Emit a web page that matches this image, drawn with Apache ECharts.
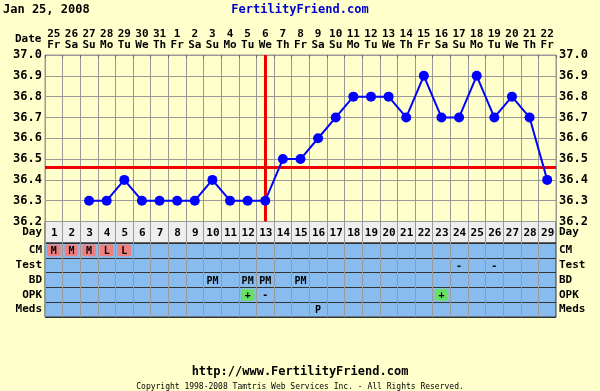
<!DOCTYPE html>
<html><head><meta charset="utf-8">
<script src="https://cdn.jsdelivr.net/npm/echarts@6/dist/echarts.min.js"></script>
<style>html,body{margin:0;padding:0;background:#FFFFCC}#c{width:600px;height:391px}</style>
</head><body><div id="c"></div>
<script>
const cycleDays = ['1','2','3','4','5','6','7','8','9','10','11','12','13','14','15','16','17','18','19','20','21','22','23','24','25','26','27','28','29'];
const dateLabels = ['25','26','27','28','29','30','31','1','2','3','4','5','6','7','8','9','10','11','12','13','14','15','16','17','18','19','20','21','22'];
const weekdayLabels = ['Fr','Sa','Su','Mo','Tu','We','Th','Fr','Sa','Su','Mo','Tu','We','Th','Fr','Sa','Su','Mo','Tu','We','Th','Fr','Sa','Su','Mo','Tu','We','Th','Fr'];
const temps = [null,null,36.3,36.3,36.4,36.3,36.3,36.3,36.3,36.4,36.3,36.3,36.3,36.5,36.5,36.6,36.7,36.8,36.8,36.8,36.7,36.9,36.7,36.7,36.9,36.7,36.8,36.7,36.4];
const coverline = 36.46;
const ovulationDay = '13';
const yTicks = ['36.2','36.3','36.4','36.5','36.6','36.7','36.8','36.9','37.0'];
const tableRows = ['CM','Test','BD','OPK','Meds'];
const cmDays = ['1','2','3','4','5'];
const cmValues = ['M','M','M','L','L'];
const testDays = ['24','26'];
const testValues = ['-','-'];
const bdDays = ['10','12','13','15'];
const bdValues = ['PM','PM','PM','PM'];
const opkDays = ['12','13','23'];
const opkValues = ['+','-','+'];
const medsDays = ['16'];
const medsValues = ['P'];

const FONT = 'DejaVu Sans Mono';
const cells = [];
function addRow(row, daysArr, vals, fillFn){
  daysArr.forEach((d,i)=>cells.push({x:cycleDays.indexOf(d), y:tableRows.indexOf(row), text:vals[i], fill:fillFn(vals[i])}));
}
addRow('CM', cmDays, cmValues, v=>'#EE8080');
addRow('Test', testDays, testValues, v=>null);
addRow('BD', bdDays, bdValues, v=>null);
addRow('OPK', opkDays, opkValues, v=>v==='+'?'#66E066':null);
addRow('Meds', medsDays, medsValues, v=>null);

const chart = echarts.init(document.getElementById('c'), null, {renderer:'canvas'});
const L = 45, R = 44;
const catAxisBase = {type:'category', data:cycleDays, boundaryGap:true,
  axisLine:{show:false}, axisTick:{show:false}, axisLabel:{show:false},
  splitLine:{show:true, interval:0, lineStyle:{color:'#999999', width:1}}};
const ts = (size, color, weight)=>({fontFamily:FONT, fontWeight:weight||'bold', fontSize:size, color:color||'#000'});

const option = {
  backgroundColor:'#FFFFCC',
  animation:false,
  title:[
    {text:'Jan 25, 2008', left:3, top:4, padding:0, textStyle:ts(12)},
    {text:'FertilityFriend.com', left:'center', top:4, padding:0, textStyle:ts(12,'#0000CC')},
    {text:'Date', left:15, top:34, padding:0, textStyle:ts(11)},
    {text:'http://www.FertilityFriend.com', left:'center', top:366, padding:0, textStyle:ts(12)},
    {text:'Copyright 1998-2008 Tamtris Web Services Inc. - All Rights Reserved.', left:'center', top:383, padding:0, textStyle:ts(8,'#000','normal')}
  ],
  grid:[
    {left:L, right:R, top:55, height:166.5, show:true, backgroundColor:'#FFFFCC', borderColor:'#999999', borderWidth:1},
    {left:L, right:R, top:221.5, height:21.5, show:true, backgroundColor:'#EEEEEE', borderColor:'#333333', borderWidth:1},
    {left:L, right:R, top:243, height:74, show:true, backgroundColor:'#88BBEE', borderColor:'#333333', borderWidth:1}
  ],
  xAxis:[
    {type:'category', data:cycleDays, gridIndex:0, position:'top', boundaryGap:true,
      axisLine:{show:true, lineStyle:{color:'#999999'}},
      axisTick:{show:true, interval:0, length:-3, lineStyle:{color:'#666666'}},
      axisLabel:{interval:0, margin:4, fontFamily:FONT, fontWeight:'bold', fontSize:11, color:'#000', lineHeight:11,
        formatter:(v,i)=>dateLabels[i]+'\n'+weekdayLabels[i]},
      splitLine:{show:true, interval:0, lineStyle:{color:'#999999'}}},
    Object.assign({gridIndex:1}, catAxisBase),
    Object.assign({gridIndex:2}, catAxisBase)
  ],
  yAxis:[
    {type:'value', gridIndex:0, min:36.2, max:37.0, interval:0.1, position:'left',
      axisLine:{show:false}, axisTick:{show:false},
      axisLabel:{margin:3, fontFamily:FONT, fontWeight:'bold', fontSize:12, color:'#000', formatter:v=>yTicks[Math.round((v-36.2)*10)]},
      splitLine:{show:true, lineStyle:{color:'#999999'}}},
    {type:'value', gridIndex:0, min:36.2, max:37.0, interval:0.1, position:'right',
      axisLine:{show:false}, axisTick:{show:false},
      axisLabel:{margin:3, fontFamily:FONT, fontWeight:'bold', fontSize:12, color:'#000', formatter:v=>yTicks[Math.round((v-36.2)*10)]},
      splitLine:{show:false}},
    {type:'category', gridIndex:1, data:['Day'], position:'left', axisLine:{show:false}, axisTick:{show:false},
      axisLabel:{margin:3, fontFamily:FONT, fontWeight:'bold', fontSize:11, color:'#000'}},
    {type:'category', gridIndex:1, data:['Day'], position:'right', axisLine:{show:false}, axisTick:{show:false},
      axisLabel:{margin:3, fontFamily:FONT, fontWeight:'bold', fontSize:11, color:'#000'}},
    {type:'category', gridIndex:2, data:tableRows, inverse:true, position:'left', axisLine:{show:false}, axisTick:{show:false},
      axisLabel:{margin:3, fontFamily:FONT, fontWeight:'bold', fontSize:11, color:'#000'},
      splitLine:{show:true, interval:0, lineStyle:{color:'#333333'}}},
    {type:'category', gridIndex:2, data:tableRows, inverse:true, position:'right', axisLine:{show:false}, axisTick:{show:false},
      axisLabel:{margin:3, fontFamily:FONT, fontWeight:'bold', fontSize:11, color:'#000'}}
  ],
  series:[
    {type:'line', xAxisIndex:0, yAxisIndex:0, data:temps, connectNulls:false,
      symbol:'circle', symbolSize:10, itemStyle:{color:'#0000FF'}, lineStyle:{color:'#0000FF', width:2},
      z:5,
      markLine:{silent:true, symbol:'none', label:{show:false}, z:4,
        data:[
          {yAxis:coverline, lineStyle:{color:'#EE0000', width:3, type:'solid'}},
          {xAxis:ovulationDay, lineStyle:{color:'#EE0000', width:3, type:'solid'}}
        ]}},
    {type:'custom', xAxisIndex:1, yAxisIndex:2, data:cycleDays.map((d,i)=>[i,0]),
      renderItem:(params, api)=>{
        const c = api.coord([api.value(0), api.value(1)]);
        return {type:'text', style:{text:cycleDays[params.dataIndex], x:c[0]+0.5, y:c[1]+1, align:'center', verticalAlign:'middle',
          font:'bold 11px "'+FONT+'"', fill:'#000'}};
      }},
    {type:'custom', xAxisIndex:2, yAxisIndex:4, data:cells.map(c=>[c.x, c.y]),
      renderItem:(params, api)=>{
        const cell = cells[params.dataIndex];
        const c = api.coord([api.value(0), api.value(1)]);
        const s = api.size([1,1]);
        const children = [];
        if(cell.fill){
          children.push({type:'rect', shape:{x:c[0]-s[0]/2+2, y:c[1]-s[1]/2+1.5, width:s[0]-4, height:s[1]-3, r:2}, style:{fill:cell.fill}});
        }
        children.push({type:'text', style:{text:cell.text, x:c[0], y:c[1]+1, align:'center', verticalAlign:'middle',
          font:'bold 10px "'+FONT+'"', fill:'#000'}});
        return {type:'group', children};
      }}
  ]
};
chart.setOption(option);
</script></body></html>
